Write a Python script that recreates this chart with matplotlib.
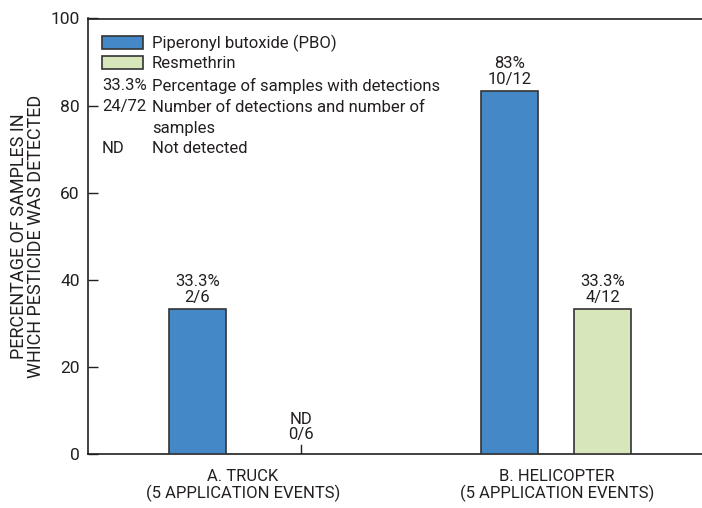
import matplotlib
matplotlib.use("Agg")
import matplotlib.pyplot as plt
from matplotlib.patches import Rectangle

# ---- data ----
groups = ["A. TRUCK\n(5 APPLICATION EVENTS)", "B. HELICOPTER\n(5 APPLICATION EVENTS)"]
series = ["Piperonyl butoxide (PBO)", "Resmethrin"]
pbo_pct = [33.3, 83.3]
resm_pct = [0.0, 33.3]
pbo_labels = ["33.3%\n2/6", "83%\n10/12"]
resm_labels = ["ND\n0/6", "33.3%\n4/12"]
yticks = [0, 20, 40, 60, 80, 100]

# ---- style ----
plt.rcParams["font.family"] = ["Roboto", "DejaVu Sans"]
TXT = "#231f20"
BLUE = "#4488c8"
GREEN = "#d7e6bb"
EDGE = "#333333"
FS = 12

W, H = 702, 508
fig = plt.figure(figsize=(W / 100, H / 100), dpi=100)

def fx(px):
    return px / W

def fy(py):
    return 1 - py / H

ax_left, ax_right, ax_top, ax_bot = 88, 712, 18.5, 454
ax = fig.add_axes([fx(ax_left), fy(ax_bot), fx(ax_right) - fx(ax_left), fy(ax_top) - fy(ax_bot)])

# group centers at 0 and 1; pixel scale 314 px per unit
centers = [0, 1]
offsets = [(-0.145, 0.185), (-0.151, 0.145)]
bw = 57 / 314
x0 = 243
ax.set_xlim((ax_left - x0) / 314, (ax_right - x0) / 314)
ax.set_ylim(0, 100)

for i, c in enumerate(centers):
    xp = c + offsets[i][0]
    xr = c + offsets[i][1]
    ax.bar(xp, pbo_pct[i], width=bw, color=BLUE, edgecolor=EDGE, linewidth=1.2, zorder=3)
    ax.text(xp, pbo_pct[i] + 1.0, pbo_labels[i], ha="center", va="bottom",
            fontsize=FS, color=TXT, linespacing=1.05)
    if resm_pct[i] > 0:
        ax.bar(xr, resm_pct[i], width=bw, color=GREEN, edgecolor=EDGE, linewidth=1.2, zorder=3)
        ax.text(xr, resm_pct[i] + 1.0, resm_labels[i], ha="center", va="bottom",
                fontsize=FS, color=TXT, linespacing=1.05)
    else:
        ax.plot([xr, xr], [0, 2.0], color=TXT, lw=1.0, zorder=3)
        ax.text(xr, 2.7, resm_labels[i], ha="center", va="bottom",
                fontsize=FS, color=TXT, linespacing=1.05)

ax.set_xticks(centers)
ax.set_xticklabels(groups, fontsize=FS, color=TXT, linespacing=1.05)
ax.tick_params(axis="x", length=0, pad=11)
ax.set_yticks(yticks)
ax.set_yticklabels([str(t) for t in yticks], fontsize=12.5, color=TXT)
ax.tick_params(axis="y", direction="in", length=7, width=1.0, color=TXT, pad=6)

for s in ["left", "bottom", "top"]:
    ax.spines[s].set_color(TXT)
    ax.spines[s].set_linewidth(1.2)
ax.spines["right"].set_visible(False)

ax.set_ylabel("PERCENTAGE OF SAMPLES IN\nWHICH PESTICIDE WAS DETECTED",
              fontsize=13, color=TXT, linespacing=0.95)
ax.yaxis.set_label_coords((45 - ax_left) / (ax_right - ax_left), 0.5)

# ---- legend (manual) ----
fig.add_artist(Rectangle((fx(102), fy(49)), fx(143) - fx(102), fy(36) - fy(49),
                         transform=fig.transFigure, facecolor=BLUE, edgecolor=EDGE, lw=1.2))
fig.add_artist(Rectangle((fx(102), fy(69)), fx(143) - fx(102), fy(56) - fy(69),
                         transform=fig.transFigure, facecolor=GREEN, edgecolor=EDGE, lw=1.2))
tx = fx(152)
fig.text(tx, fy(43), series[0], fontsize=FS, color=TXT, va="center")
fig.text(tx, fy(63), series[1], fontsize=FS, color=TXT, va="center")
fig.text(fx(102), fy(86), "33.3%", fontsize=FS, color=TXT, va="center")
fig.text(tx, fy(86), "Percentage of samples with detections", fontsize=FS, color=TXT, va="center")
fig.text(fx(102), fy(107), "24/72", fontsize=FS, color=TXT, va="center")
fig.text(tx, fy(107), "Number of detections and number of", fontsize=FS, color=TXT, va="center")
fig.text(tx, fy(128), "samples", fontsize=FS, color=TXT, va="center")
fig.text(fx(102), fy(149), "ND", fontsize=FS, color=TXT, va="center")
fig.text(tx, fy(149), "Not detected", fontsize=FS, color=TXT, va="center")

fig.savefig("out.png", dpi=100)
